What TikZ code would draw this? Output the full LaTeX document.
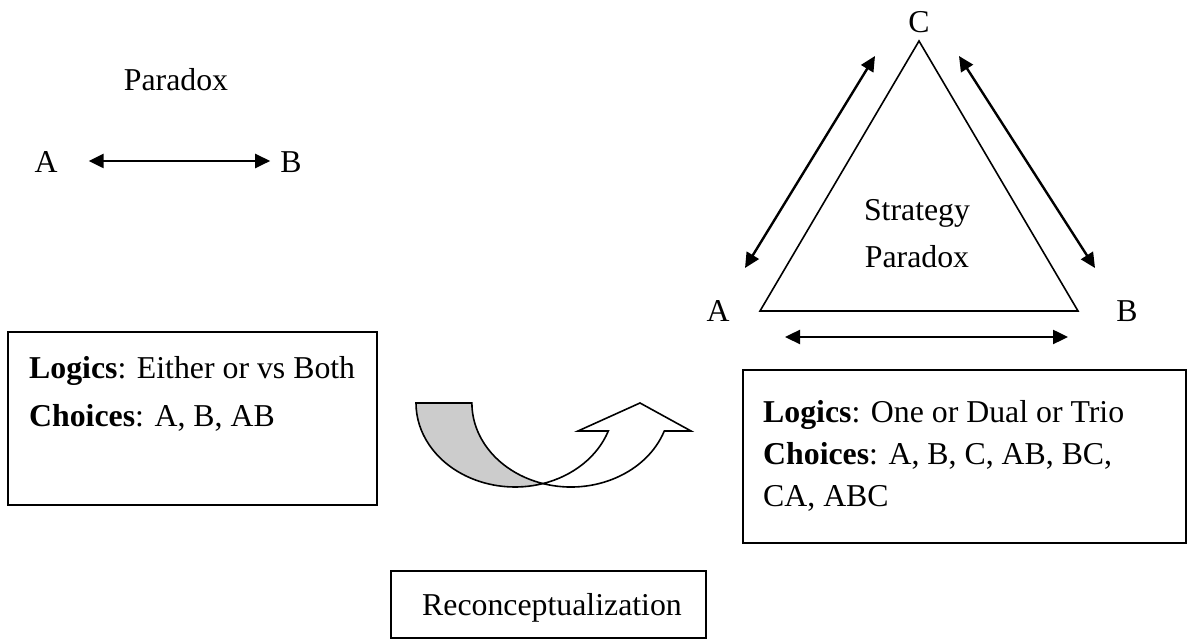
\documentclass[tikz,border=0pt]{standalone}
\usepackage{fontspec}
\setmainfont{Liberation Serif}
\usetikzlibrary{arrows.meta,calc}
\begin{document}
\begin{tikzpicture}[x=1pt,y=1pt,
  lbl/.style={inner sep=0pt,font=\fontsize{31.8}{38}\selectfont},
  boxtxt/.style={inner sep=0pt,anchor=base west,font=\fontsize{31.8}{38}\selectfont},
  frame/.style={draw,line width=1.6pt,inner sep=0pt},
  dbl/.style={line width=2.4pt,{Triangle[length=15pt,width=14pt]}-{Triangle[length=15pt,width=14pt]}},
  tri/.style={draw,line width=1.6pt,line join=miter}]
\useasboundingbox (0,0) rectangle (1190,639);
% left paradox
\node[lbl] (par) at (176,559) {Paradox};
\node[lbl] (a1) at (46,477) {A};
\node[lbl] (b1) at (291,477) {B};
\draw[dbl] ($(a1.east)+(31,1)$) -- ($(b1.west)+(-10,1)$);
% triangle
\coordinate (tc) at (919,598);
\coordinate (tl) at (760,328);
\coordinate (tr) at (1078,328);
\draw[tri] (tc) -- (tl) -- (tr) -- cycle;
\node[lbl] (c2) at (919,617) {C};
\node[lbl] (a2) at (718,328) {A};
\node[lbl] (b2) at (1127,328) {B};
\node[lbl,align=center] (sp) at (917,405) {Strategy\\[9pt]Paradox};
\coordinate (acl) at (745,371);
\coordinate (ach) at (875,583);
\coordinate (bch) at (959,583);
\coordinate (bcl) at (1095,371);
\coordinate (abl) at (785,302);
\coordinate (abr) at (1068,302);
\draw[dbl] (acl) -- (ach);
\draw[dbl] (bch) -- (bcl);
\draw[dbl] (abl) -- (abr);
% boxes
\node[frame,minimum width=369pt,minimum height=173pt] (lbox) at (192.5,220.5) {};
\node[boxtxt] (l1) at (29,260) {\textbf{Logics}: Either or vs Both};
\node[boxtxt] (l2) at (29,212) {\textbf{Choices}: A, B, AB};
\node[frame,minimum width=443pt,minimum height=173pt] (rbox) at (964.5,182.5) {};
\node[boxtxt] (r1) at (763,216) {\textbf{Logics}: One or Dual or Trio};
\node[boxtxt] (r2) at (763,174) {\textbf{Choices}: A, B, C, AB, BC,};
\node[boxtxt] (r3) at (763,132) {CA, ABC};
\node[frame,minimum width=315pt,minimum height=67pt] (recbox) at (548.5,34.5) {};
\node[lbl] (rec) at (552,31) {Reconceptualization};
% curved up arrow
\draw[line width=1.6pt,fill=black!20,line join=miter]
  (416,236) arc[start angle=180,end angle=286.4,x radius=99pt,y radius=84pt]
  arc[start angle=253.6,end angle=180,x radius=99pt,y radius=84pt] -- cycle;
\draw[line width=1.6pt,fill=white,line join=miter]
  (543,155.4) arc[start angle=253.6,end angle=340.53,x radius=99pt,y radius=84pt]
  -- (691,208) -- (640,236) -- (578,208) -- (608.3,208)
  arc[start angle=-19.47,end angle=-73.6,x radius=99pt,y radius=84pt] -- cycle;
\end{tikzpicture}
\end{document}
